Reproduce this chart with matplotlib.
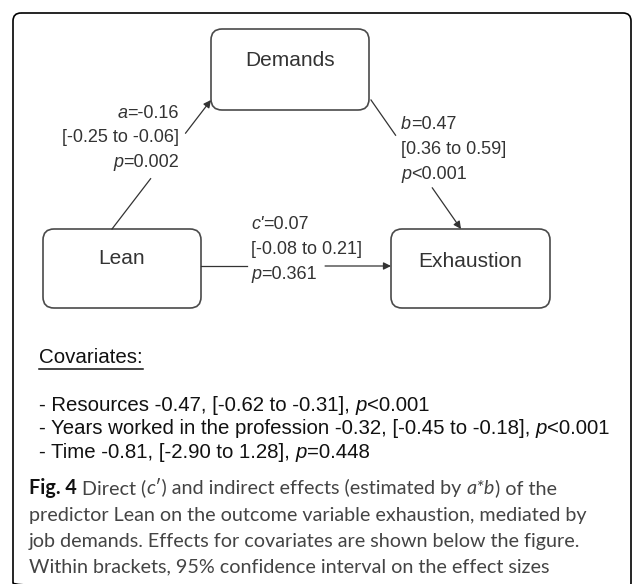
import matplotlib
matplotlib.use("Agg")
import matplotlib.pyplot as plt
from matplotlib.patches import FancyBboxPatch

# nodes of the mediation model
nodes = ["Demands", "Lean", "Exhaustion"]
node_box = {"Demands": (211, 29, 369, 110),
            "Lean": (43, 229, 201, 308),
            "Exhaustion": (391, 229, 550, 308)}
node_text_y = {"Demands": 59, "Lean": 257, "Exhaustion": 260}

# path coefficients: (italic letter, estimate, CI, p sign, p value)
path_names = ["a", "b", "c'"]
path_est = ["-0.16", "0.47", "0.07"]
path_ci = ["[-0.25 to -0.06]", "[0.36 to 0.59]", "[-0.08 to 0.21]"]
path_p = ["=0.002", "<0.001", "=0.361"]

# covariates
cov_names = ["Resources", "Years worked in the profession", "Time"]
cov_est = ["-0.47", "-0.32", "-0.81"]
cov_ci = ["[-0.62 to -0.31]", "[-0.45 to -0.18]", "[-2.90 to 1.28]"]
cov_p = ["<0.001", "<0.001", "=0.448"]

W, H = 634, 584
fig = plt.figure(figsize=(W / 100, H / 100), dpi=100)
ax = fig.add_axes([0, 0, 1, 1])
ax.set_xlim(0, W)
ax.set_ylim(H, 0)
ax.axis("off")
rend = fig.canvas.get_renderer()

DIAG = "Liberation Sans"
CAP = "Lato"
line_col = "#333333"


def runs(x, y, parts, ha="left", size=13, color="#333333", family=DIAG):
    items = []
    for s, st in parts:
        t = ax.text(0, y, s, fontsize=size, color=color, family=family,
                    va="baseline", ha="left", **st)
        w = t.get_window_extent(renderer=rend).width
        items.append((t, w))
    total = sum(w for _, w in items)
    cx = x - total if ha == "right" else x
    for t, w in items:
        t.set_x(cx)
        cx += w
    return x if ha == "left" else x - total, total


# outer frame
ax.add_patch(FancyBboxPatch((13, 13), 618, 578, boxstyle="round,pad=0,rounding_size=8",
                            fc="none", ec="black", lw=1.2))

# node boxes
for n in nodes:
    x0, y0, x1, y1 = node_box[n]
    ax.add_patch(FancyBboxPatch((x0, y0), x1 - x0, y1 - y0,
                                boxstyle="round,pad=0,rounding_size=11",
                                fc="white", ec="#4a4a4a", lw=1.2))
    ax.text((x0 + x1) / 2, node_text_y[n] + 7, n, fontsize=15, color="#333333",
            family=DIAG, ha="center", va="baseline")

# arrows: start, tip, gap (fractions along the path)
arrow_pts = [((112, 229), (211, 100), (0.39, 0.742)),
             ((371, 100), (461, 229), (0.273, 0.68)),
             ((201, 266), (391, 266), (0.242, 0.653))]
for (p0, p1, (t0, t1)) in arrow_pts:
    g0 = (p0[0] + (p1[0] - p0[0]) * t0, p0[1] + (p1[1] - p0[1]) * t0)
    g1 = (p0[0] + (p1[0] - p0[0]) * t1, p0[1] + (p1[1] - p0[1]) * t1)
    ax.plot([p0[0], g0[0]], [p0[1], g0[1]], color=line_col, lw=0.9)
    ax.annotate("", xy=p1, xytext=g1,
                arrowprops=dict(arrowstyle="-|>", color=line_col, lw=0.9,
                                mutation_scale=11, shrinkA=0, shrinkB=0))

# path labels: anchor x, alignment, row centres
label_pos = [(179, "right", (113, 137, 162)),
             (401, "left", (124, 149, 174)),
             (251, "left", (224, 249, 274))]
it = {"style": "italic"}
nor = {}
for i in range(3):
    x, ha, rows = label_pos[i]
    runs(x, rows[0] + 5, [(path_names[i], it), ("=" + path_est[i], nor)], ha=ha)
    runs(x, rows[1] + 5, [(path_ci[i], nor)], ha=ha)
    runs(x, rows[2] + 5, [("p", it), (path_p[i], nor)], ha=ha)

# covariates block
cx, cw = runs(39, 363, [("Covariates:", nor)], size=14.8, color="#111111")
ax.plot([cx, cx + cw], [368.5, 368.5], color="#111111", lw=1.1)
cov_rows = [405, 428, 452]
for i in range(3):
    runs(39, cov_rows[i] + 6,
         [("- " + cov_names[i] + " " + cov_est[i] + ", " + cov_ci[i] + ", ", nor),
          ("p", it), (cov_p[i], nor)], size=14.7, color="#111111")

# caption
cap_col = "#444444"
cap_rows = [488, 515, 541, 566]
cap_lines = [
    [("Fig. 4", {"weight": "bold", "color": "#111111"}), (" Direct (", nor), ("c", it),
     ("\u2032) and indirect effects (estimated by ", nor), ("a*b", it), (") of the", nor)],
    [("predictor Lean on the outcome variable exhaustion, mediated by", nor)],
    [("job demands. Effects for covariates are shown below the figure.", nor)],
    [("Within brackets, 95% confidence interval on the effect sizes", nor)],
]
for y, parts in zip(cap_rows, cap_lines):
    xcur = 29
    for s, st in parts:
        st = dict(st)
        col = st.pop("color", cap_col)
        t = ax.text(xcur, y + 6, s, fontsize=14.2, color=col, family=CAP,
                    va="baseline", ha="left", **st)
        xcur += t.get_window_extent(renderer=rend).width

fig.savefig("out.png", dpi=100)
